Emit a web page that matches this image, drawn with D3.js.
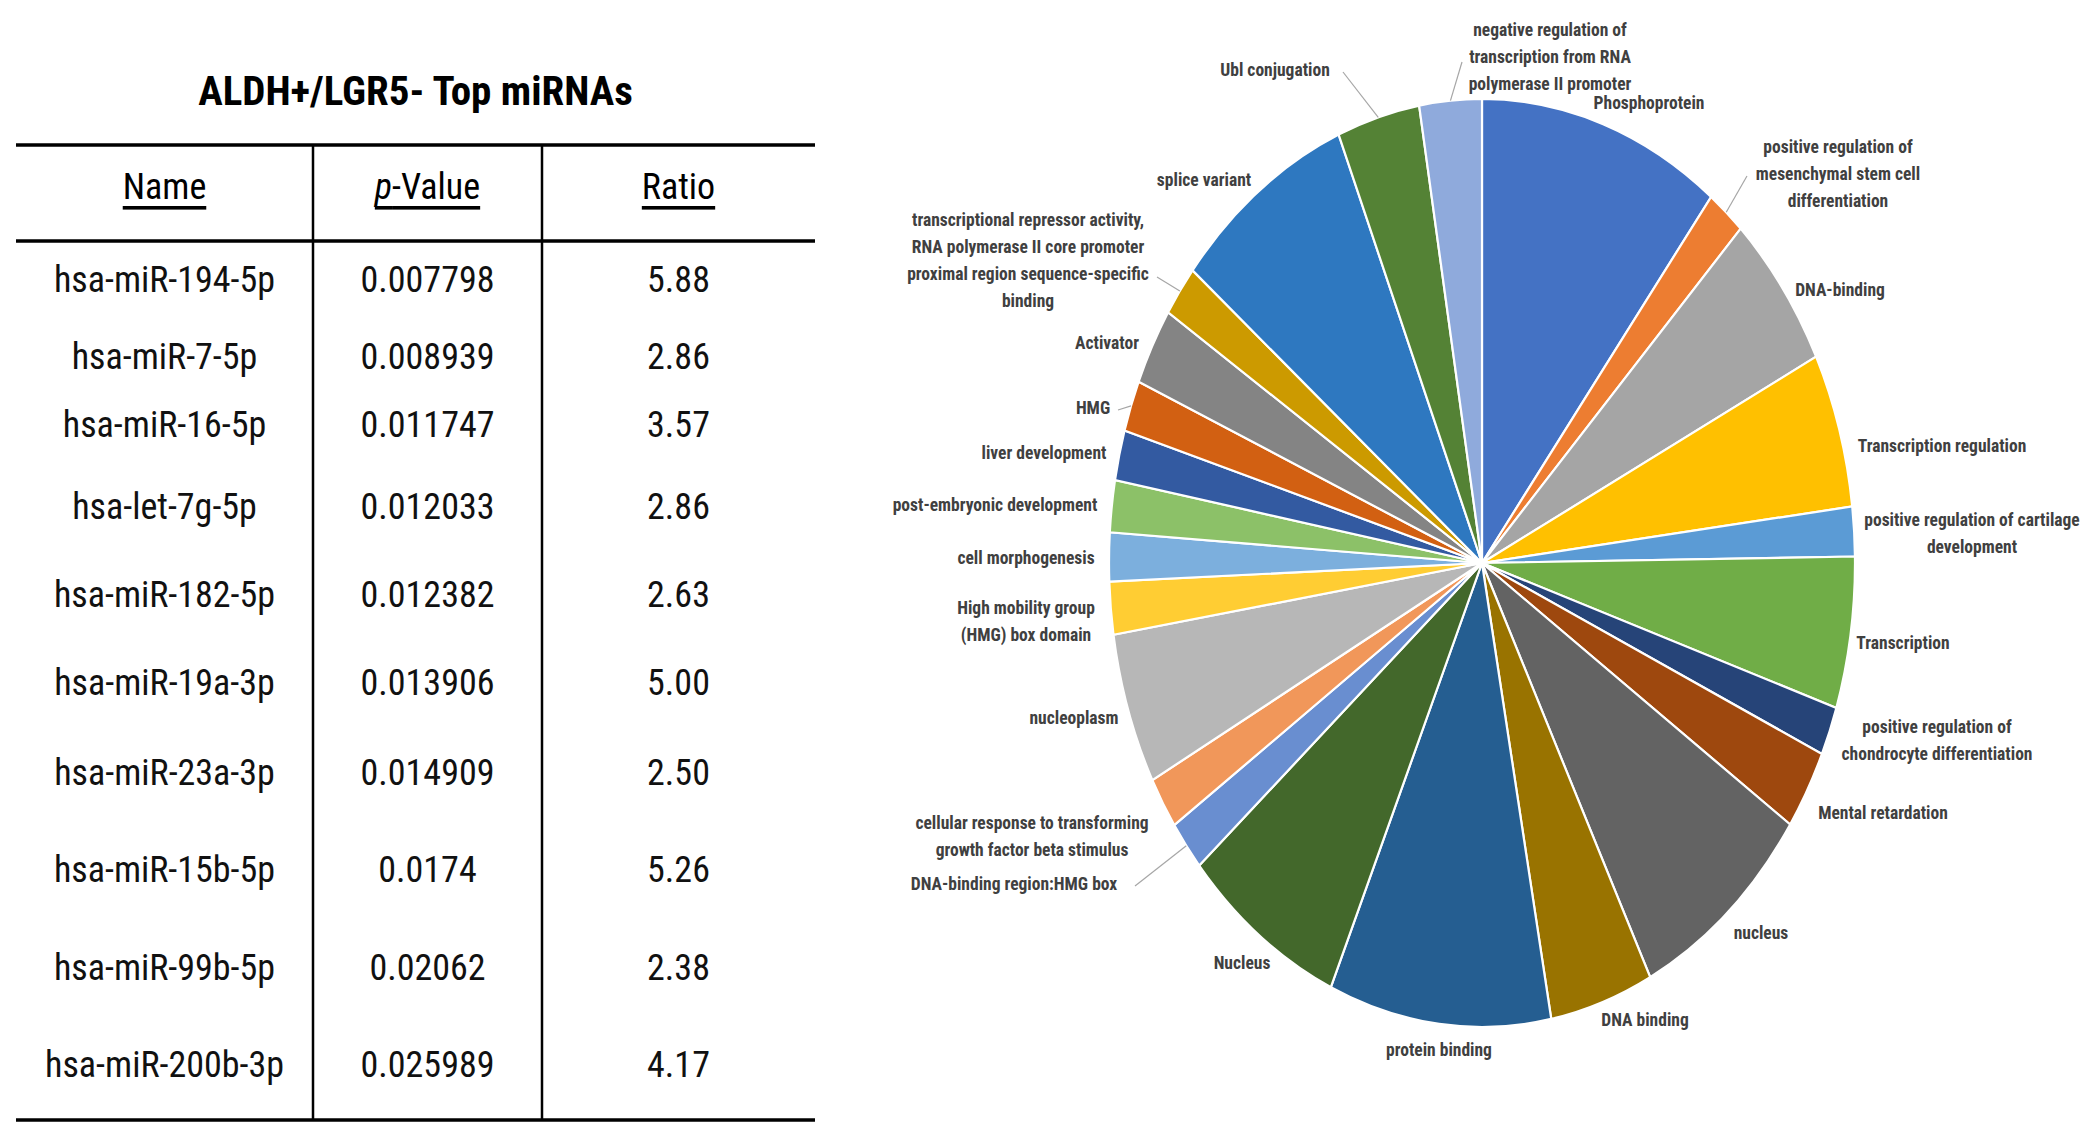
<!DOCTYPE html>
<html><head><meta charset="utf-8">
<script src="https://cdn.jsdelivr.net/npm/d3@7"></script>
<style>
body{margin:0;background:#fff;}
svg{display:block;background:#fff;}
</style></head><body>
<svg id="chart" width="2100" height="1140"></svg>
<script>
// ---------------- DATA ----------------
const tableTitle = "ALDH+/LGR5- Top miRNAs";
const columnHeaders = ["Name", "p-Value", "Ratio"];
const miRNANames = ["hsa-miR-194-5p","hsa-miR-7-5p","hsa-miR-16-5p","hsa-let-7g-5p","hsa-miR-182-5p",
  "hsa-miR-19a-3p","hsa-miR-23a-3p","hsa-miR-15b-5p","hsa-miR-99b-5p","hsa-miR-200b-3p"];
const pValues = ["0.007798","0.008939","0.011747","0.012033","0.012382",
  "0.013906","0.014909","0.0174","0.02062","0.025989"];
const ratios = ["5.88","2.86","3.57","2.86","2.63","5.00","2.50","5.26","2.38","4.17"];

const goTerms = [
  "Phosphoprotein",
  "positive regulation of\nmesenchymal stem cell\ndifferentiation",
  "DNA-binding",
  "Transcription regulation",
  "positive regulation of cartilage\ndevelopment",
  "Transcription",
  "positive regulation of\nchondrocyte differentiation",
  "Mental retardation",
  "nucleus",
  "DNA binding",
  "protein binding",
  "Nucleus",
  "DNA-binding region:HMG box",
  "cellular response to transforming\ngrowth factor beta stimulus",
  "nucleoplasm",
  "High mobility group\n(HMG) box domain",
  "cell morphogenesis",
  "post-embryonic development",
  "liver development",
  "HMG",
  "Activator",
  "transcriptional repressor activity,\nRNA polymerase II core promoter\nproximal region sequence-specific\nbinding",
  "splice variant",
  "Ubl conjugation",
  "negative regulation of\ntranscription from RNA\npolymerase II promoter"
];
const goShares = [37.9, 6.0, 19.7, 19.4, 6.2, 19.0, 6.1, 10.0, 28.9, 16.1, 34.6, 25.4, 6.3,
  6.5, 19.0, 6.6, 6.1, 6.5, 6.3, 6.4, 9.7, 6.4, 28.3, 12.9, 9.7];

// ---------------- STYLE / LAYOUT ----------------
const sliceColors = ["#4472C4","#ED7D31","#A5A5A5","#FFC000","#5B9BD5","#70AD47",
  "#264478","#9E480E","#636363","#997300","#255E91","#43682B",
  "#698ED0","#F1975A","#B7B7B7","#FFCD33","#7CAFDD","#8CC168",
  "#335AA1","#D26012","#848484","#CC9A00","#2E78C0","#548235","#8FAADC"];

const FONT = "'Liberation Sans Narrow','Arial Narrow','Roboto Condensed',sans-serif";
const tbl = {x0:16, x1:815, cols:[16,313,542,815], top:145, headLine:241, bottom:1120, titleY:91, headY:187};
const rowCenters = [280,357,425,507,595,683,773,870,968,1065];
const pieGeo = {cx:1482, cy:563, rx:373, ry:464};
// label centre offsets from pie centre, optional leader end offsets
const labelLayout = [
  {dx:167,dy:-460},
  {dx:356,dy:-389, lead:[265,-387]},
  {dx:358,dy:-273},
  {dx:460,dy:-117},
  {dx:490,dy:-30},
  {dx:421,dy:80},
  {dx:455,dy:177},
  {dx:401,dy:250},
  {dx:279,dy:370},
  {dx:163,dy:457},
  {dx:-43,dy:487},
  {dx:-240,dy:400},
  {dx:-468,dy:321, lead:[-347,323]},
  {dx:-450,dy:273},
  {dx:-408,dy:155},
  {dx:-456,dy:58},
  {dx:-456,dy:-5},
  {dx:-487,dy:-58},
  {dx:-438,dy:-110},
  {dx:-389,dy:-155, lead:[-364,-153]},
  {dx:-375,dy:-220},
  {dx:-454,dy:-303, lead:[-325,-286]},
  {dx:-278,dy:-383},
  {dx:-207,dy:-493, lead:[-139,-491]},
  {dx:68,dy:-506, lead:[-20,-501]}
];
const labelLineH = 27;

const svg = d3.select("#chart");

// ---------------- TABLE ----------------
const gT = svg.append("g");
const colCenter = i => (tbl.cols[i] + tbl.cols[i+1]) / 2;

gT.append("text").attr("x", (tbl.x0+tbl.x1)/2).attr("y", tbl.titleY)
  .attr("text-anchor","middle").attr("dominant-baseline","central")
  .style("font-family",FONT).style("font-weight","bold").style("font-size","41px").attr("fill","#000")
  .text(tableTitle);

[tbl.top, tbl.headLine, tbl.bottom].forEach(y => {
  gT.append("line").attr("x1",tbl.x0).attr("x2",tbl.x1).attr("y1",y).attr("y2",y)
    .attr("stroke","#000").attr("stroke-width",3.5);
});
[tbl.cols[1], tbl.cols[2]].forEach(x => {
  gT.append("line").attr("x1",x).attr("x2",x).attr("y1",tbl.top).attr("y2",tbl.bottom)
    .attr("stroke","#000").attr("stroke-width",2.5);
});

columnHeaders.forEach((h,i) => {
  const t = gT.append("text").attr("x", colCenter(i)).attr("y", tbl.headY)
    .attr("text-anchor","middle").attr("dominant-baseline","central")
    .style("font-family",FONT).style("font-size","36px").style("text-decoration","underline")
    .attr("fill","#000");
  if (h.startsWith("p-")) {
    t.append("tspan").style("font-style","italic").text("p");
    t.append("tspan").text(h.slice(1));
  } else t.text(h);
});

const rowData = miRNANames.map((n,i) => [n, pValues[i], ratios[i]]);
rowData.forEach((row, r) => {
  row.forEach((v, c) => {
    gT.append("text").attr("x", colCenter(c)).attr("y", rowCenters[r])
      .attr("text-anchor","middle").attr("dominant-baseline","central")
      .style("font-family",FONT).style("font-size","36px").attr("fill","#111")
      .text(v);
  });
});

// ---------------- PIE ----------------
const pie = d3.pie().sort(null).value(d => d)(goShares);
const arc = d3.arc().innerRadius(0).outerRadius(pieGeo.ry);
const sx = pieGeo.rx / pieGeo.ry;
const gP = svg.append("g").attr("transform", `translate(${pieGeo.cx},${pieGeo.cy}) scale(${sx},1)`);
gP.selectAll("path").data(pie).join("path")
  .attr("d", arc)
  .attr("fill", (d,i) => sliceColors[i])
  .attr("stroke", "#fff").attr("stroke-width", 2.2)
  .attr("vector-effect","non-scaling-stroke");

// labels
const gL = svg.append("g").attr("transform", `translate(${pieGeo.cx},${pieGeo.cy})`);
pie.forEach((d,i) => {
  const lay = labelLayout[i];
  const lines = goTerms[i].split("\n");
  if (lay.lead) {
    const mid = (d.startAngle + d.endAngle) / 2;
    const px = Math.sin(mid) * pieGeo.rx, py = -Math.cos(mid) * pieGeo.ry;
    gL.append("path")
      .attr("d", `M${px},${py}L${lay.lead[0]},${lay.lead[1]}`)
      .attr("fill","none").attr("stroke","#A6A6A6").attr("stroke-width",1.2);
  }
  const t = gL.append("text").attr("text-anchor","middle")
    .style("font-family",FONT).style("font-weight","bold").style("font-size","17.5px")
    .attr("fill","#404040");
  const y0 = lay.dy - (lines.length-1) * labelLineH / 2;
  lines.forEach((ln, k) => {
    t.append("tspan").attr("x", lay.dx).attr("y", y0 + k*labelLineH)
      .attr("dominant-baseline","central").text(ln);
  });
});
</script>
</body></html>
